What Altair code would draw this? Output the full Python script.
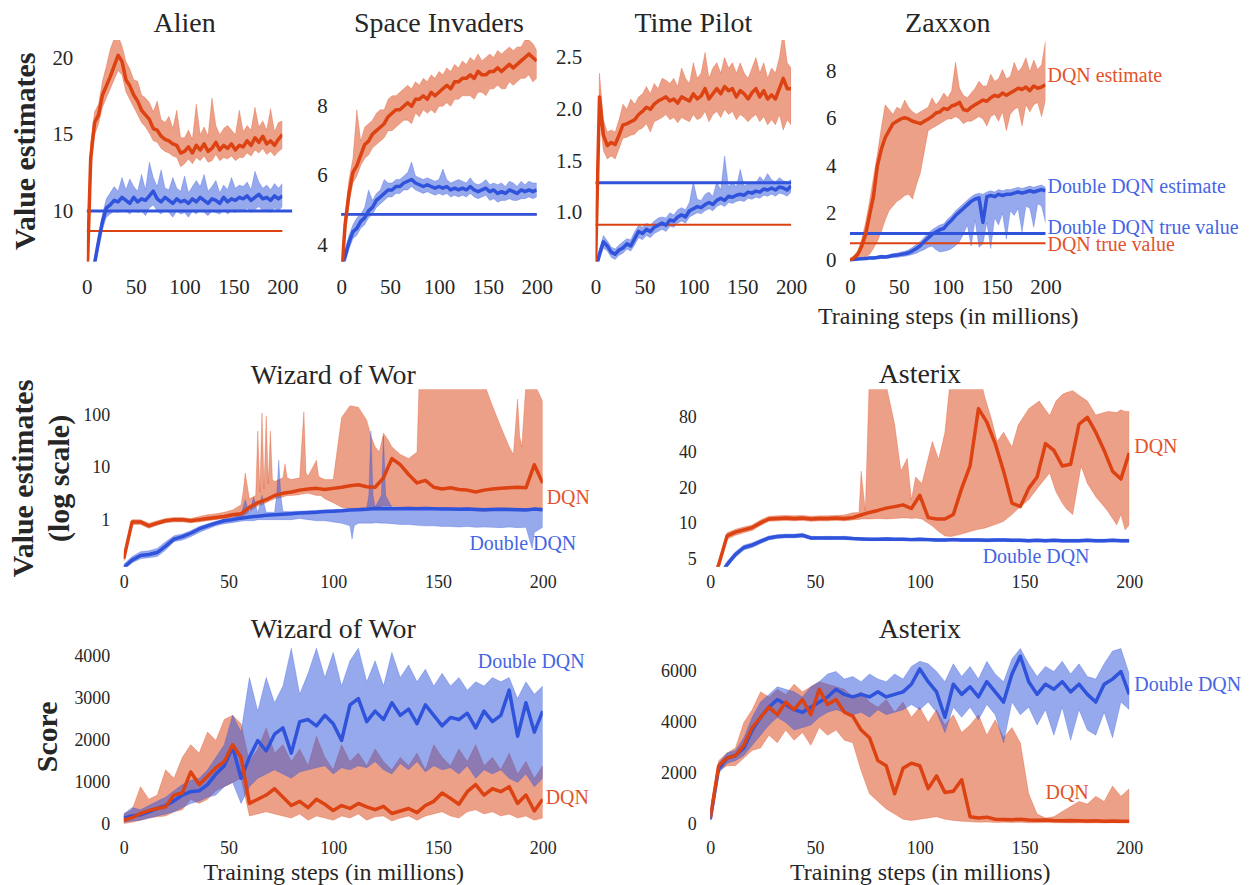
import altair as alt
import pandas as pd

FONT = "Liberation Serif"
RED = "#DC4212"
BLUE = "#3053DC"
RED_LABEL = "#E2532B"
BLUE_LABEL = "#4565E3"
TXT = "#262626"

STEPS = list(range(0, 201, 4))
X_TICKS = [0, 50, 100, 150, 200]

# ---------------- Alien ----------------
ALIEN_DQN = [5.0, 13.5, 15.8, 16.3, 17.6, 18.2, 18.8, 19.5, 20.2, 19.8,
             18.6, 18.2, 17.6, 17.2, 16.6, 16.3, 16.0, 15.4, 15.3, 14.9,
             14.7, 14.6, 14.4, 14.3, 13.8, 13.9, 14.2, 13.8, 14.3, 14.0,
             14.4, 13.9, 14.1, 14.5, 14.0, 14.3, 14.1, 14.4, 14.0, 14.3,
             14.2, 14.6, 14.3, 14.8, 14.5, 14.9, 14.4, 14.6, 14.3, 14.7,
             15.0]
ALIEN_DQN_HI = [5.5, 14.5, 16.5, 17.0, 18.5, 19.5, 20.6, 21.3, 21.5, 20.8,
                19.8, 19.3, 18.6, 18.5, 17.6, 17.4, 17.1, 16.5, 17.2, 16.0,
                15.8, 16.2, 15.4, 16.6, 14.8, 14.8, 15.3, 14.7, 17.0, 15.0,
                15.5, 14.9, 17.4, 15.6, 15.0, 15.4, 15.6, 15.3, 15.0, 16.6,
                15.2, 15.6, 15.3, 16.8, 15.5, 15.9, 15.3, 16.7, 15.2, 15.8,
                15.9]
ALIEN_DQN_LO = [4.5, 12.5, 15.0, 15.7, 16.8, 17.4, 18.0, 18.6, 19.2, 18.9,
                17.8, 17.3, 16.8, 16.3, 15.8, 15.5, 15.1, 14.6, 14.5, 14.1,
                13.9, 13.8, 13.6, 13.5, 12.9, 13.1, 13.4, 13.1, 13.5, 13.3,
                13.6, 13.2, 13.3, 13.7, 13.3, 13.5, 13.4, 13.6, 13.3, 13.5,
                13.5, 13.8, 13.6, 14.0, 13.8, 14.1, 13.7, 13.9, 13.6, 13.9,
                14.1]
ALIEN_DDQN = [4.5, 5.5, 6.6, 8.0, 9.3, 10.2, 10.4, 10.7, 10.6, 10.9,
              10.7, 10.5, 10.9, 10.6, 10.8, 10.7, 11.0, 11.3, 10.8, 10.6,
              10.9, 10.7, 10.5, 10.8, 10.6, 10.7, 10.5, 10.8, 10.6, 10.9,
              10.7, 10.5, 10.8, 10.7, 10.5, 10.9, 10.6, 10.8, 10.7, 10.9,
              10.8, 11.0, 10.7, 10.9, 11.1, 10.8, 10.9, 10.7, 11.0, 10.8,
              11.0]
ALIEN_DDQN_HI = [4.8, 5.9, 7.0, 8.5, 9.8, 10.8, 11.2, 11.6, 11.3, 12.2,
                 11.4, 12.1, 11.6, 11.3, 12.4, 11.4, 13.2, 12.2, 11.6, 12.7,
                 11.5, 11.4, 12.2, 11.5, 11.3, 12.3, 11.2, 11.6, 12.0, 11.6,
                 12.4, 11.3, 11.6, 12.0, 11.2, 11.7, 11.4, 12.2, 11.5, 11.7,
                 11.6, 11.9, 11.4, 12.6, 11.9, 11.5, 11.7, 11.4, 11.8, 11.5,
                 11.8]
ALIEN_DDQN_LO = [4.2, 5.1, 6.2, 7.5, 8.8, 9.6, 9.8, 10.0, 9.9, 10.1,
                 10.0, 9.8, 10.1, 9.9, 10.0, 9.7, 10.2, 10.4, 10.0, 9.8,
                 10.1, 9.9, 9.6, 10.0, 9.8, 9.9, 9.6, 10.0, 9.8, 10.1,
                 9.9, 9.7, 10.0, 9.9, 9.8, 10.1, 9.8, 10.0, 9.9, 10.1,
                 10.0, 10.2, 9.9, 10.1, 10.3, 10.0, 10.1, 9.9, 10.2, 10.0,
                 10.3]
ALIEN_TRUE = {"DQN": 8.7, "Double DQN": 10.0}

# ---------------- Space Invaders ----------------
SI_DQN = [3.0, 4.6, 5.5, 6.1, 6.3, 6.6, 6.9, 7.0, 7.2, 7.3,
          7.4, 7.5, 7.7, 7.8, 7.9, 7.9, 8.0, 8.1, 8.0, 8.2,
          8.2, 8.3, 8.2, 8.4, 8.3, 8.4, 8.5, 8.6, 8.5, 8.7,
          8.7, 8.8, 8.8, 8.9, 8.8, 9.0, 8.9, 8.9, 9.0, 9.0,
          9.1, 9.0, 9.1, 9.2, 9.1, 9.2, 9.3, 9.4, 9.5, 9.4,
          9.3]
SI_DQN_HI = [3.2, 4.9, 5.9, 6.5, 7.9, 7.0, 7.4, 7.5, 7.6, 7.8,
             7.9, 7.9, 8.2, 8.3, 8.3, 8.4, 8.5, 8.6, 8.5, 8.7,
             8.6, 8.8, 8.7, 8.9, 8.8, 9.0, 8.9, 9.1, 9.0, 9.2,
             9.1, 9.3, 9.2, 9.4, 9.3, 9.5, 9.3, 9.4, 9.5, 9.4,
             9.6, 9.5, 9.6, 9.7, 9.6, 9.7, 9.7, 9.9, 9.9, 9.8,
             9.6]
SI_DQN_LO = [2.8, 4.3, 5.2, 5.8, 6.0, 6.3, 6.5, 6.6, 6.8, 6.9,
             7.0, 7.1, 7.3, 7.3, 7.4, 7.5, 7.6, 7.6, 7.5, 7.8,
             7.7, 7.9, 7.8, 7.9, 7.8, 8.0, 8.0, 8.1, 8.0, 8.2,
             8.2, 8.3, 8.3, 8.3, 8.2, 8.4, 8.4, 8.3, 8.5, 8.5,
             8.6, 8.5, 8.5, 8.7, 8.6, 8.7, 8.8, 8.8, 8.9, 8.7,
             8.8]
SI_DDQN = [3.4, 3.7, 4.1, 4.4, 4.5, 4.7, 4.8, 5.0, 5.1, 5.3,
           5.4, 5.5, 5.6, 5.6, 5.7, 5.7, 5.8, 5.85, 5.9, 5.8,
           5.75, 5.7, 5.75, 5.7, 5.65, 5.7, 5.65, 5.7, 5.6, 5.65,
           5.6, 5.65, 5.6, 5.7, 5.6, 5.55, 5.6, 5.65, 5.55, 5.6,
           5.5, 5.55, 5.5, 5.6, 5.55, 5.5, 5.6, 5.55, 5.6, 5.55,
           5.6]
SI_DDQN_HI = [3.5, 3.9, 4.3, 4.6, 4.8, 4.9, 5.1, 5.6, 5.3, 5.5,
              5.6, 5.9, 5.8, 5.8, 5.9, 5.9, 6.0, 6.1, 6.4, 6.0,
              5.95, 5.9, 5.95, 5.9, 5.85, 5.9, 6.2, 5.9, 5.8, 5.85,
              5.9, 5.85, 5.8, 5.95, 5.8, 5.75, 5.8, 5.9, 5.75, 5.8,
              5.75, 5.8, 5.7, 5.85, 5.8, 5.7, 5.85, 5.75, 5.85, 5.8,
              5.8]
SI_DDQN_LO = [3.3, 3.5, 3.9, 4.2, 4.3, 4.5, 4.6, 4.8, 4.9, 5.1,
              5.2, 5.3, 5.4, 5.4, 5.5, 5.5, 5.6, 5.6, 5.7, 5.6,
              5.55, 5.5, 5.55, 5.5, 5.45, 5.5, 5.45, 5.5, 5.4, 5.45,
              5.4, 5.45, 5.4, 5.5, 5.4, 5.35, 5.4, 5.45, 5.3, 5.35,
              5.25, 5.3, 5.3, 5.35, 5.3, 5.3, 5.35, 5.35, 5.4, 5.35,
              5.4]
SI_TRUE = {"DQN": 4.9, "Double DQN": 4.9}

# ---------------- Time Pilot ----------------
TP_DQN = [0.5, 2.12, 1.75, 1.65, 1.68, 1.66, 1.75, 1.85, 1.86, 1.88,
          1.9, 1.95, 1.98, 2.02, 2.0, 2.05, 2.08, 2.1, 2.12, 2.08,
          2.1, 2.06, 2.12, 2.1, 2.08, 2.15, 2.1, 2.13, 2.2, 2.1,
          2.15, 2.2, 2.15, 2.22, 2.18, 2.2, 2.12, 2.18, 2.15, 2.1,
          2.16, 2.2, 2.12, 2.18, 2.1, 2.14, 2.1, 2.2, 2.3, 2.2,
          2.2]
TP_DQN_HI = [0.55, 2.35, 1.9, 1.78, 1.8, 1.78, 1.9, 2.05, 2.0, 2.1,
             2.05, 2.12, 2.15, 2.22, 2.15, 2.25, 2.2, 2.3, 2.28, 2.25,
             2.3, 2.22, 2.4, 2.3, 2.25, 2.45, 2.3, 2.35, 2.55, 2.3,
             2.4, 2.45, 2.35, 2.5, 2.4, 2.45, 2.35, 2.45, 2.35, 2.3,
             2.4, 2.5, 2.35, 2.45, 2.3, 2.4, 2.35, 2.5, 2.75, 2.45,
             2.4]
TP_DQN_LO = [0.45, 1.95, 1.6, 1.52, 1.55, 1.52, 1.62, 1.72, 1.73, 1.75,
             1.76, 1.8, 1.82, 1.86, 1.78, 1.88, 1.9, 1.92, 1.95, 1.9,
             1.92, 1.87, 1.92, 1.9, 1.88, 1.95, 1.9, 1.92, 1.98, 1.88,
             1.95, 1.98, 1.92, 2.0, 1.95, 1.98, 1.9, 1.95, 1.92, 1.88,
             1.92, 1.95, 1.88, 1.93, 1.85, 1.9, 1.85, 1.95, 1.8, 1.9,
             1.85]
TP_DDQN = [0.45, 0.6, 0.72, 0.68, 0.62, 0.6, 0.64, 0.66, 0.7, 0.68,
           0.75, 0.82, 0.8, 0.84, 0.82, 0.86, 0.88, 0.9, 0.88, 0.93,
           0.92, 0.96, 0.98, 0.96, 1.02, 1.04, 1.06, 1.05, 1.08, 1.1,
           1.08, 1.12, 1.14, 1.12, 1.16, 1.15, 1.17, 1.18, 1.17, 1.2,
           1.19, 1.21, 1.2, 1.23, 1.22, 1.24, 1.22, 1.25, 1.24, 1.22,
           1.26]
TP_DDQN_HI = [0.48, 0.65, 0.78, 0.73, 0.67, 0.65, 0.69, 0.72, 0.75, 0.74,
              0.82, 0.88, 0.86, 0.9, 0.88, 0.92, 0.95, 0.96, 0.95, 1.0,
              0.98, 1.03, 1.05, 1.03, 1.1, 1.3, 1.13, 1.12, 1.18, 1.2,
              1.16, 1.3, 1.22, 1.55, 1.25, 1.3, 1.25, 1.42, 1.26, 1.28,
              1.3, 1.29, 1.35, 1.31, 1.38, 1.32, 1.3, 1.34, 1.31, 1.3,
              1.32]
TP_DDQN_LO = [0.42, 0.55, 0.66, 0.63, 0.57, 0.55, 0.59, 0.61, 0.65, 0.63,
              0.69, 0.76, 0.74, 0.78, 0.76, 0.8, 0.82, 0.84, 0.82, 0.87,
              0.86, 0.9, 0.92, 0.9, 0.96, 0.98, 1.0, 0.99, 1.02, 1.04,
              1.02, 1.06, 1.08, 1.06, 1.1, 1.09, 1.11, 1.12, 1.11, 1.14,
              1.13, 1.15, 1.14, 1.17, 1.16, 1.18, 1.16, 1.19, 1.18, 1.16,
              1.2]
TP_TRUE = {"DQN": 0.885, "Double DQN": 1.29}

# ---------------- Zaxxon ----------------
ZAX_DQN = [0.0, 0.1, 0.25, 0.6, 1.1, 1.9, 2.7, 4.0, 4.7, 5.2,
           5.5, 5.8, 5.9, 6.0, 6.05, 6.0, 5.9, 5.85, 5.8, 5.9,
           6.0, 6.1, 6.25, 6.3, 6.45, 6.4, 6.55, 6.6, 6.7, 6.4,
           6.35, 6.5, 6.6, 6.7, 6.8, 6.75, 6.9, 7.0, 6.95, 7.1,
           7.0, 7.1, 7.2, 7.3, 7.25, 7.35, 7.2, 7.4, 7.3, 7.35,
           7.45]
ZAX_DQN_HI = [0.05, 0.2, 0.4, 0.9, 1.6, 2.5, 3.5, 4.5, 5.6, 6.6,
              6.4, 6.2, 6.5, 6.4, 6.8, 6.5, 6.3, 6.2, 6.3, 6.4,
              6.5, 6.9, 6.6, 6.8, 7.1, 6.9, 7.2, 8.4, 7.3, 7.0,
              6.9, 7.1, 7.3, 7.6, 7.4, 7.4, 7.9, 7.6, 7.7, 8.1,
              7.7, 7.8, 8.4, 8.0, 8.2, 8.6, 8.0, 8.5, 8.1, 8.3,
              9.3]
ZAX_DQN_LO = [0.0, 0.02, 0.05, 0.1, 0.15, 0.25, 0.5, 0.8, 1.2, 1.7,
              2.1, 2.3, 2.5, 2.6, 2.75, 2.8, 2.6, 3.2, 3.7, 4.6,
              5.5, 5.6, 5.7, 5.8, 5.9, 6.0, 6.0, 6.1, 6.0, 5.8,
              5.9, 5.9, 6.0, 6.1, 6.0, 5.7, 6.1, 6.2, 5.9, 6.3,
              5.5, 6.2, 6.4, 6.5, 5.7, 6.6, 6.3, 6.6, 6.7, 6.1,
              6.8]
ZAX_DDQN = [0.0, 0.03, 0.05, 0.06, 0.08, 0.1, 0.1, 0.12, 0.15, 0.14,
            0.16, 0.2, 0.22, 0.25, 0.28, 0.32, 0.4, 0.5, 0.62, 0.8,
            0.95, 1.1, 1.2, 1.3, 1.35, 1.55, 1.7, 1.9, 2.05, 2.2,
            2.35, 2.5, 2.6, 2.65, 1.6, 2.7, 2.75, 2.7, 2.8, 2.75,
            2.8, 2.8, 2.85, 2.9, 2.85, 2.9, 2.95, 2.9, 2.95, 3.0,
            2.95]
ZAX_DDQN_HI = [0.02, 0.06, 0.08, 0.1, 0.12, 0.15, 0.16, 0.18, 0.22, 0.2,
               0.24, 0.28, 0.3, 0.35, 0.38, 0.45, 0.55, 0.68, 0.8, 0.98,
               1.15, 1.3, 1.4, 1.5, 1.55, 1.75, 1.9, 2.1, 2.25, 2.4,
               2.55, 2.7, 2.8, 2.85, 2.8, 2.9, 2.95, 2.9, 3.0, 2.95,
               3.0, 3.0, 3.05, 3.1, 3.05, 3.1, 3.15, 3.1, 3.15, 3.2,
               3.1]
ZAX_DDQN_LO = [0.0, 0.0, 0.02, 0.03, 0.04, 0.05, 0.05, 0.06, 0.08, 0.08,
               0.1, 0.12, 0.12, 0.15, 0.17, 0.2, 0.25, 0.3, 0.38, 0.45,
               0.55, 0.6, 0.45, 0.35, 0.38, 0.42, 0.5, 0.62, 0.8, 1.1,
               1.5, 0.6, 1.7, 0.55, 0.7, 1.6, 0.5, 1.8, 1.5, 2.0,
               0.9, 2.1, 1.9, 2.2, 1.2, 2.3, 2.2, 1.4, 2.4, 2.3,
               1.6]
ZAX_TRUE = {"DQN": 0.72, "Double DQN": 1.14}

# ---------------- Wizard of Wor: value estimates (log) ----------------
WWV_DQN = [0.19, 0.95, 0.95, 0.8, 0.9, 1.0, 1.05, 1.05, 1.0, 1.05,
           1.1, 1.15, 1.2, 1.3, 1.35, 1.8, 2.2, 2.5, 3.0, 3.3,
           3.5, 3.8, 4.0, 4.1, 3.9, 4.1, 4.3, 4.6, 4.8, 4.4,
           4.3, 6.5, 15.0, 11.5, 7.5, 5.2, 5.8, 4.3, 4.0, 4.2,
           3.9, 3.8, 3.5, 3.8, 4.0, 4.1, 4.2, 4.3, 4.2, 11.5,
           5.2]
WWV_DQN_BX = [0, 4, 8, 12, 16, 20, 24, 28, 32, 36,
              40, 44, 48, 52, 56, 57, 58, 60, 63, 64,
              65, 66, 67, 68, 69, 70, 71, 72, 76, 77,
              78, 80, 84, 85, 86, 87, 88, 92, 93, 94,
              96, 100, 104, 108, 112, 116, 118, 120, 122, 124,
              126, 128, 132, 136, 140, 141, 144, 148, 152, 156,
              160, 164, 168, 172, 176, 180, 184, 186, 188, 189,
              190, 192, 196, 200]
WWV_DQN_HI = [0.21, 1.05, 1.05, 0.9, 1.0, 1.1, 1.15, 1.15, 1.1, 1.2,
              1.3, 1.35, 1.45, 1.6, 2.0, 3.5, 8.0, 2.6, 3.0, 50,
              3.5, 110, 4.0, 95, 5.0, 50, 6.0, 5.5, 6.5, 12,
              6.5, 6.0, 6.5, 30, 115, 8.0, 7.0, 14, 7.0, 6.5,
              6.0, 6.0, 90, 150, 140, 80, 40, 25, 20, 45,
              35, 25, 18, 15, 20, 400, 400, 400, 400, 400,
              400, 400, 400, 400, 150, 60, 25, 18, 200, 40,
              25, 400, 400, 180]
WWV_DQN_LO = [0.17, 0.85, 0.85, 0.72, 0.82, 0.92, 0.95, 0.95, 0.92, 0.95,
              1.0, 1.05, 1.1, 1.15, 1.2, 1.25, 1.3, 1.5, 1.8, 1.9,
              2.0, 2.0, 2.1, 2.2, 2.3, 2.4, 2.5, 2.6, 2.8, 2.9,
              3.0, 3.0, 3.1, 3.2, 3.2, 3.3, 3.3, 3.0, 3.0, 3.0,
              2.6, 2.2, 1.8, 1.7, 1.7, 1.75, 1.8, 1.8, 1.8, 1.9,
              1.9, 1.9, 1.85, 1.8, 1.8, 1.8, 1.75, 1.7, 1.7, 1.7,
              1.7, 1.65, 1.55, 1.5, 1.55, 1.6, 1.6, 1.6, 1.6, 1.6,
              1.6, 1.65, 1.7, 1.7]
WWV_DDQN = [0.13, 0.18, 0.22, 0.23, 0.25, 0.33, 0.45, 0.5, 0.58, 0.7,
            0.8, 0.9, 1.0, 1.05, 1.12, 1.18, 1.22, 1.27, 1.3, 1.33,
            1.36, 1.4, 1.42, 1.45, 1.5, 1.52, 1.55, 1.6, 1.62, 1.65,
            1.7, 1.68, 1.7, 1.68, 1.7, 1.68, 1.7, 1.68, 1.67, 1.66,
            1.65, 1.66, 1.64, 1.62, 1.63, 1.65, 1.64, 1.62, 1.6, 1.66,
            1.62]
WWV_DDQN_BX = [0, 4, 8, 12, 16, 20, 24, 28, 32, 36,
               40, 44, 48, 52, 56, 58, 60, 62, 64, 66,
               68, 72, 73, 74, 75, 76, 80, 84, 88, 92,
               96, 100, 104, 108, 109, 110, 111, 112, 116, 117,
               118, 119, 120, 123, 124, 125, 128, 132, 136, 140,
               144, 148, 152, 156, 160, 164, 168, 172, 176, 180,
               184, 188, 192, 194, 195, 196, 200]
WWV_DDQN_HI = [0.15, 0.21, 0.26, 0.27, 0.3, 0.4, 0.52, 0.56, 0.65, 0.78,
               0.88, 0.98, 1.08, 1.15, 1.3, 2.5, 1.35, 2.8, 1.4, 3.0,
               1.45, 1.45, 3.0, 14, 3.0, 1.5, 1.5, 1.52, 1.55, 1.58,
               1.6, 1.62, 1.65, 1.7, 1.7, 1.72, 1.72, 1.74, 1.76, 3.0,
               50, 3.0, 1.8, 3.0, 40, 3.0, 1.8, 1.78, 1.8, 1.78,
               1.8, 1.78, 1.77, 1.76, 1.75, 1.76, 1.74, 1.72, 1.73, 1.75,
               1.74, 1.72, 1.7, 1.72, 1.75, 1.76, 1.72]
WWV_DDQN_LO = [0.12, 0.16, 0.19, 0.2, 0.21, 0.28, 0.4, 0.43, 0.5, 0.6,
               0.7, 0.8, 0.88, 0.92, 0.98, 1.0, 1.0, 1.0, 1.05, 1.05,
               1.05, 1.05, 1.05, 1.05, 1.05, 1.05, 1.05, 1.1, 1.05, 1.0,
               1.0, 0.95, 0.9, 0.8, 0.45, 0.8, 0.85, 0.9, 0.9, 0.9,
               0.9, 0.9, 0.92, 0.9, 0.9, 0.9, 0.88, 0.85, 0.85, 0.82,
               0.8, 0.8, 0.78, 0.78, 0.76, 0.78, 0.75, 0.76, 0.75, 0.74,
               0.76, 0.74, 0.75, 0.4, 0.3, 0.6, 0.75]

# ---------------- Asterix: value estimates (log) ----------------
ASV_DQN = [3.0, 4.5, 7.9, 8.5, 8.9, 9.3, 10.2, 11.0, 11.1, 11.2,
           11.1, 11.2, 11.0, 11.1, 11.1, 11.2, 11.1, 11.3, 11.9, 12.5,
           13.0, 13.6, 14.0, 14.5, 13.5, 17.5, 11.3, 11.0, 11.0, 12.0,
           20.0, 31.0, 95.0, 73.0, 48.0, 28.0, 15.0, 14.0, 20.0, 25.0,
           48.0, 42.0, 31.0, 32.0, 70.0, 80.0, 60.0, 42.0, 28.0, 24.0,
           40.0]
ASV_DQN_BX = [0, 4, 8, 12, 16, 20, 24, 28, 32, 36,
              40, 44, 48, 52, 56, 60, 64, 68, 71, 72,
              74, 76, 80, 84, 88, 91, 94, 96, 98, 101,
              106, 109, 112, 115, 120, 124, 128, 131, 134, 137,
              140, 144, 147, 152, 157, 162, 165, 168, 170, 173,
              177, 180, 184, 188, 190, 194, 196, 198, 200]
ASV_DQN_HI = [3.2, 4.8, 8.4, 9.0, 9.4, 9.8, 10.8, 11.6, 11.7, 11.8,
              11.7, 11.8, 11.6, 11.7, 11.7, 11.8, 11.9, 12.4, 12.5, 28,
              13, 200, 200, 150, 70, 28, 36, 16, 25, 22,
              50, 35, 60, 200, 200, 200, 200, 120, 80, 50,
              60, 45, 69, 95, 110, 83, 110, 125, 130, 135,
              120, 110, 84, 88, 90, 88, 93, 90, 90]
ASV_DQN_LO = [2.8, 4.2, 7.4, 8.0, 8.4, 8.8, 9.7, 10.5, 10.6, 10.7,
              10.6, 10.7, 10.5, 10.6, 10.6, 10.7, 10.6, 10.8, 10.9, 11.0,
              11.0, 11.0, 11.1, 11.0, 11.1, 11.2, 11.2, 11.1, 11.2, 11.0,
              9.6, 8.6, 7.9, 7.8, 8.2, 8.6, 9.0, 9.2, 9.6, 10.0,
              10.5, 12.0, 13.5, 16.0, 21.0, 27.0, 18.7, 15.0, 13.4, 12.0,
              31.0, 22.0, 17.0, 14.0, 12.6, 9.8, 12.0, 8.9, 9.8]
ASV_DDQN = [3.0, 3.5, 4.5, 5.5, 6.3, 6.6, 7.1, 7.6, 7.8, 7.9,
            7.9, 8.0, 7.6, 7.6, 7.6, 7.6, 7.6, 7.5, 7.45, 7.4,
            7.4, 7.45, 7.4, 7.4, 7.35, 7.4, 7.35, 7.3, 7.3, 7.35,
            7.3, 7.3, 7.3, 7.25, 7.3, 7.3, 7.25, 7.25, 7.2, 7.25,
            7.2, 7.25, 7.2, 7.2, 7.2, 7.25, 7.2, 7.2, 7.25, 7.2,
            7.2]
ASV_DDQN_HI = [3.1, 3.7, 4.8, 5.8, 6.6, 6.9, 7.4, 7.9, 8.1, 8.2,
               8.2, 8.3, 7.85, 7.8, 7.85, 7.8, 7.85, 7.7, 7.65, 7.6,
               7.6, 7.65, 7.6, 7.6, 7.55, 7.6, 7.55, 7.5, 7.5, 7.55,
               7.5, 7.5, 7.5, 7.45, 7.5, 7.5, 7.45, 7.45, 7.4, 7.45,
               7.4, 7.45, 7.4, 7.4, 7.4, 7.45, 7.4, 7.4, 7.45, 7.4,
               7.4]
ASV_DDQN_LO = [2.9, 3.3, 4.3, 5.2, 6.0, 6.3, 6.8, 7.3, 7.5, 7.6,
               7.6, 7.7, 7.35, 7.4, 7.35, 7.4, 7.35, 7.3, 7.25, 7.2,
               7.2, 7.25, 7.2, 7.2, 7.15, 7.2, 7.15, 7.1, 7.1, 7.15,
               7.1, 7.1, 7.1, 7.05, 7.1, 7.1, 7.05, 7.05, 7.0, 7.05,
               7.0, 7.05, 7.0, 7.0, 7.0, 7.05, 7.0, 7.0, 7.05, 7.0,
               7.0]

# ---------------- Wizard of Wor: score ----------------
WWS_DQN = [100, 160, 260, 330, 380, 420, 700, 750, 1250, 950,
           1150, 1350, 1500, 1900, 1600, 500, 600, 700, 850, 650,
           450, 550, 400, 600, 480, 330, 450, 380, 500, 420,
           350, 430, 260, 320, 380, 280, 450, 550, 750, 620,
           480, 780, 950, 700, 850, 780, 900, 500, 700, 320,
           600]
WWS_DQN_HI = [250, 350, 900, 600, 700, 1300, 1100, 1600, 1900, 1700,
              2200, 2000, 2500, 2600, 2400, 1500, 1800, 2300, 1700, 1900,
              1500, 1800, 1400, 2100, 1600, 1300, 1900, 1500, 1700, 1400,
              1800, 1500, 1300, 1600, 1400, 1700, 1300, 1900, 1600, 1400,
              1800, 1500, 1900, 1400, 1600, 1300, 1700, 1200, 1500, 1100,
              1400]
WWS_DQN_LO = [20, 50, 100, 150, 180, 200, 300, 350, 600, 500,
              600, 800, 900, 1000, 1100, 200, 250, 300, 250, 200,
              150, 250, 100, 200, 150, 100, 200, 150, 250, 100,
              180, 200, 80, 150, 200, 100, 200, 250, 300, 200,
              150, 300, 350, 250, 300, 200, 250, 150, 200, 100,
              150]
WWS_DDQN = [150, 200, 230, 300, 380, 450, 560, 700, 780, 800,
            950, 1200, 1400, 1850, 1100, 1600, 2000, 1750, 2150, 2300,
            1700, 2450, 2500, 2350, 2600, 2400, 2000, 2850, 3000, 2450,
            2700, 2500, 2900, 2600, 2750, 2400, 2850, 2600, 2350, 2550,
            2500, 2650, 2300, 2700, 2450, 2600, 3200, 2100, 2900, 2200,
            2700]
WWS_DDQN_HI = [250, 400, 350, 450, 550, 650, 800, 950, 1050, 1100,
               1300, 1600, 1900, 2600, 2200, 3500, 2700, 3500, 2900, 3300,
               4200, 3100, 3600, 4200, 3500, 4100, 3300, 3900, 4200, 3400,
               3900, 3300, 4100, 3500, 3800, 3400, 3700, 3300, 3600, 3300,
               3500, 3200, 3400, 3300, 3500, 3400, 3500, 3000, 3400, 3100,
               3300]
WWS_DDQN_LO = [50, 80, 100, 150, 200, 250, 300, 400, 500, 550,
               650, 700, 900, 1000, 500, 900, 1100, 1200, 1300, 1200,
               1100, 1250, 1300, 1350, 1400, 1200, 1350, 1300, 1400, 1350,
               1500, 1300, 1200, 1450, 1300, 1500, 1250, 1400, 1300, 1350,
               1200, 1400, 1100, 1300, 1200, 1300, 1100, 1000, 1200, 900,
               1100]

# ---------------- Asterix: score ----------------
ASS_DQN = [250, 2300, 2600, 2700, 3100, 3800, 4200, 4600, 4300, 4800,
           4500, 4900, 4300, 5300, 4700, 4900, 4400, 4250, 3700, 3400,
           2500, 2300, 1200, 2200, 2400, 2300, 1400, 1900, 1250, 1300,
           1750, 300, 250, 280, 200, 190, 180, 200, 170, 160,
           170, 150, 140, 150, 140, 130, 140, 120, 130, 120,
           120]
ASS_DQN_HI = [300, 2500, 2800, 3000, 4000, 4500, 5200, 5000, 5300, 5100,
              5500, 5200, 5400, 5600, 5500, 5400, 5300, 5000, 5200, 4800,
              4600, 4900, 4400, 4800, 4200, 4600, 4000, 4500, 3900, 4300,
              3600, 3900, 4300, 3500, 4100, 3400, 3800, 3200, 1200, 400,
              250, 300, 500, 700, 900, 800, 1100, 900, 1500, 1100,
              1400]
ASS_DQN_LO = [200, 2100, 2300, 2300, 2600, 2900, 3000, 3500, 3200, 3700,
              3300, 3600, 3100, 3800, 3500, 3700, 3300, 3200, 2100, 1200,
              900, 600, 400, 200, 150, 200, 250, 300, 200, 150,
              120, 100, 80, 90, 70, 80, 70, 80, 60, 60,
              70, 60, 60, 50, 60, 50, 60, 50, 60, 50,
              50]
ASS_DDQN = [200, 2200, 2600, 2700, 3000, 3700, 4200, 4600, 4900, 4700,
            4500, 4400, 4600, 4800, 5000, 5300, 5100, 5000, 5100, 5000,
            5200, 5000, 5100, 5200, 5500, 6100, 5600, 5200, 4200, 5500,
            5100, 5400, 5000, 5600, 5200, 4800, 5900, 6600, 5600, 5100,
            5500, 5300, 5600, 5200, 5500, 5100, 4800, 5500, 5700, 6000,
            5100]
ASS_DDQN_HI = [250, 2400, 2800, 2900, 3400, 4200, 4800, 5100, 5400, 5300,
               5200, 5000, 5400, 5600, 5900, 6000, 5700, 5800, 5600, 5900,
               5700, 5600, 5900, 5700, 6200, 6400, 6300, 6000, 5600, 6300,
               5800, 6200, 5700, 6400, 5900, 5600, 6500, 6900, 6300, 5800,
               6200, 6000, 6400, 5900, 6300, 5800, 5700, 6300, 6800, 6900,
               5900]
ASS_DDQN_LO = [150, 2000, 2400, 2500, 2700, 3100, 3500, 3900, 4200, 4000,
               3700, 3800, 3900, 4200, 4400, 4500, 4400, 4300, 4400, 4200,
               4500, 4300, 4400, 4500, 4700, 4500, 4800, 4400, 3600, 4600,
               4200, 4600, 4100, 4700, 4300, 3200, 4800, 4300, 4600, 3900,
               4500, 3500, 4600, 3300, 4500, 3700, 3500, 4400, 3400, 4800,
               4500]

SPACER_DF = pd.DataFrame({"v": [0]})


def check(*arrs):
    n = len(arrs[0])
    for a in arrs:
        if len(a) != n:
            raise ValueError(f"length mismatch {len(a)} vs {n}")


def series(x, mean, bx, lo, hi):
    check(x, mean)
    check(bx, lo, hi)
    return (pd.DataFrame({"x": bx, "lo": lo, "hi": hi}),
            pd.DataFrame({"x": x, "y": mean}))


def extent_rule(height, ext):
    # invisible vertical rule that fixes a row's layout bounds
    return (alt.Chart(SPACER_DF).mark_rule(opacity=0, strokeWidth=1)
            .encode(x=alt.value(0), y=alt.value(-ext[0]),
                    y2=alt.value(height + ext[1])))


def panel(title, dqn, ddqn, y_domain, y_values, y_format, *, width, height,
          y_type="linear", x_font=18, y_font=18, x_pad=13, title_offset=2,
          y_title=None, y_title_x=-60, x_title=None, x_title_y=56,
          rules=(), labels=(), lw=3.5, ext=None):
    sx = alt.Scale(domain=[0, 200], nice=False, zero=False)
    sy = alt.Scale(type=y_type, domain=y_domain, nice=False, zero=False)
    xa_kw = dict(values=X_TICKS, domain=False, ticks=False, tickSize=0, grid=False,
                 labelFont=FONT, labelFontSize=x_font, labelColor=TXT,
                 labelPadding=x_pad, labelFlush=False, labelOverlap=False)
    if x_title:
        xa_kw.update(title=x_title, titleFont=FONT, titleFontSize=24,
                     titleFontWeight="normal", titleColor=TXT,
                     titleY=x_title_y, titleBaseline="alphabetic")
    else:
        xa_kw["title"] = None
    xa = alt.Axis(**xa_kw)
    ya_kw = dict(values=y_values, format=y_format, domain=False, ticks=False,
                 tickSize=0, grid=False, labelFont=FONT, labelFontSize=y_font,
                 labelColor=TXT, labelPadding=14, labelFlush=False,
                 labelOverlap=False)
    if y_title:
        ya_kw.update(title=y_title, titleFont=FONT, titleFontSize=30,
                     titleFontWeight="bold", titleColor=TXT, titleX=y_title_x,
                     titleY=height / 2, titleAngle=270, titleAlign="center",
                     titleBaseline="middle", titleLineHeight=36)
    else:
        ya_kw["title"] = None
    ya = alt.Axis(**ya_kw)

    X = alt.X("x:Q", scale=sx, axis=xa)
    layers = []
    for (band, _), color in ((dqn, RED), (ddqn, BLUE)):
        layers.append(
            alt.Chart(band).mark_area(clip=True, fill=color, fillOpacity=0.5,
                                      stroke=color, strokeOpacity=0.35,
                                      strokeWidth=0.8)
            .encode(x=X, y=alt.Y("lo:Q", scale=sy, axis=ya), y2="hi:Q"))
    for r in rules:
        rdf = pd.DataFrame({"x": [0], "x2": [r["x2"]], "y": [r["y"]]})
        layers.append(
            alt.Chart(rdf).mark_rule(color=r["color"], strokeWidth=r["w"])
            .encode(x=X, x2="x2:Q", y=alt.Y("y:Q", scale=sy, axis=ya)))
    for (_, line), color in ((ddqn, BLUE), (dqn, RED)):
        layers.append(
            alt.Chart(line).mark_line(clip=True, color=color, strokeWidth=lw,
                                      strokeJoin="round")
            .encode(x=X, y=alt.Y("y:Q", scale=sy, axis=ya)))
    for lab in labels:
        ldf = pd.DataFrame({"x": [lab["x"]], "y": [lab["y"]], "t": [lab["t"]]})
        layers.append(
            alt.Chart(ldf).mark_text(align="left", baseline="middle", font=FONT,
                                     fontSize=lab.get("size", 20),
                                     color=lab["color"], dx=lab.get("dx", 0))
            .encode(x=X, y=alt.Y("y:Q", scale=sy, axis=ya), text="t:N"))
    if ext is not None:
        layers.append(extent_rule(height, ext))
    tp = alt.TitleParams(text=title, font=FONT, fontSize=28, fontWeight="normal",
                         color=TXT, offset=title_offset, baseline="top",
                         anchor="middle")
    return alt.layer(*layers).properties(width=width, height=height, title=tp)


def std(mean_d, lo_d, hi_d, mean_b, lo_b, hi_b):
    return (series(STEPS, mean_d, STEPS, lo_d, hi_d),
            series(STEPS, mean_b, STEPS, lo_b, hi_b))


def true_rules(tv, x2_blue=200):
    return [dict(y=tv["DQN"], color=RED, w=2, x2=200),
            dict(y=tv["Double DQN"], color=BLUE, w=3, x2=x2_blue)]


W1, H1 = 196, 222
top_kw = dict(width=W1, height=H1, x_font=21, y_font=21, x_pad=15, title_offset=2)

d, b = std(ALIEN_DQN, ALIEN_DQN_LO, ALIEN_DQN_HI, ALIEN_DDQN, ALIEN_DDQN_LO, ALIEN_DDQN_HI)
alien = panel("Alien", d, b, [6.7, 21.2], [10, 15, 20], "d",
              y_title="Value estimates", y_title_x=-61,
              rules=true_rules(ALIEN_TRUE, 210), ext=(0, 71), **top_kw)

d, b = std(SI_DQN, SI_DQN_LO, SI_DQN_HI, SI_DDQN, SI_DDQN_LO, SI_DDQN_HI)
si = panel("Space Invaders", d, b, [3.55, 9.9], [4, 6, 8], "d",
           rules=true_rules(SI_TRUE), **top_kw)

d, b = std(TP_DQN, TP_DQN_LO, TP_DQN_HI, TP_DDQN, TP_DDQN_LO, TP_DDQN_HI)
tp = panel("Time Pilot", d, b, [0.53, 2.67], [1.0, 1.5, 2.0, 2.5], ".1f",
           rules=true_rules(TP_TRUE), **top_kw)

d, b = std(ZAX_DQN, ZAX_DQN_LO, ZAX_DQN_HI, ZAX_DDQN, ZAX_DDQN_LO, ZAX_DDQN_HI)
zax = panel("Zaxxon", d, b, [-0.05, 9.35], [0, 2, 4, 6, 8], "d",
            x_title="Training steps (in millions)", x_title_y=62,
            rules=true_rules(ZAX_TRUE),
            labels=[dict(t="DQN estimate", x=200, y=7.8, color=RED_LABEL, dx=2),
                    dict(t="Double DQN estimate", x=200, y=3.1, color=BLUE_LABEL, dx=2),
                    dict(t="Double DQN true value", x=200, y=1.38, color=BLUE_LABEL, dx=2),
                    dict(t="DQN true value", x=200, y=0.63, color=RED_LABEL, dx=2)],
            **top_kw)

W2, H2, H3 = 420, 178, 180

wwv = panel("Wizard of Wor",
            series(STEPS, WWV_DQN, WWV_DQN_BX, WWV_DQN_LO, WWV_DQN_HI),
            series(STEPS, WWV_DDQN, WWV_DDQN_BX, WWV_DDQN_LO, WWV_DDQN_HI),
            [0.135, 309], [1, 10, 100], "d", y_type="log",
            width=W2, height=H2, x_pad=7, title_offset=-11,
            y_title=["Value estimates", "(log scale)"], y_title_x=-100,
            labels=[dict(t="DQN", x=200, y=2.7, color=RED_LABEL, dx=4),
                    dict(t="Double DQN", x=165, y=0.37, color=BLUE_LABEL)])

asv = panel("Asterix",
            series(STEPS, ASV_DQN, ASV_DQN_BX, ASV_DQN_LO, ASV_DQN_HI),
            series(STEPS, ASV_DDQN, STEPS, ASV_DDQN_LO, ASV_DDQN_HI),
            [4.33, 139], [5, 10, 20, 40, 80], "d", y_type="log",
            width=W2, height=H2, x_pad=7, title_offset=0,
            labels=[dict(t="DQN", x=200, y=45, color=RED_LABEL, dx=5),
                    dict(t="Double DQN", x=130, y=5.25, color=BLUE_LABEL)])

d, b = std(WWS_DQN, WWS_DQN_LO, WWS_DQN_HI, WWS_DDQN, WWS_DDQN_LO, WWS_DDQN_HI)
wws = panel("Wizard of Wor", d, b, [-40, 4240], [0, 1000, 2000, 3000, 4000], "d",
            width=W2, height=H3, x_pad=13, title_offset=3,
            y_title="Score", y_title_x=-76,
            x_title="Training steps (in millions)", x_title_y=54,
            labels=[dict(t="Double DQN", x=169, y=3880, color=BLUE_LABEL),
                    dict(t="DQN", x=200, y=620, color=RED_LABEL, dx=3)])

d, b = std(ASS_DQN, ASS_DQN_LO, ASS_DQN_HI, ASS_DDQN, ASS_DDQN_LO, ASS_DDQN_HI)
ass = panel("Asterix", d, b, [-70, 6980], [0, 2000, 4000, 6000], "d",
            width=W2, height=H3, x_pad=13, title_offset=3,
            x_title="Training steps (in millions)", x_title_y=54,
            labels=[dict(t="Double DQN", x=200, y=5450, color=BLUE_LABEL, dx=5),
                    dict(t="DQN", x=160, y=1215, color=RED_LABEL)])


def spacer(w, h, ext=None):
    base = alt.Chart(SPACER_DF).mark_point(opacity=0)
    if ext is None:
        return base.properties(width=w, height=h)
    return alt.layer(base, extent_rule(h, ext)).properties(width=w, height=h)


row1 = alt.hconcat(alien, si, tp, zax, spacing=59, bounds="flush")
row2 = alt.hconcat(spacer(37, H2, ext=(45, 30)), wwv, spacer(168, H2), asv,
                   spacing=0, bounds="flush")
row3 = alt.hconcat(spacer(37, H3, ext=(38, 62)), wws, spacer(168, H3), ass,
                   spacing=0, bounds="flush")

chart = (alt.vconcat(row1, row2, row3, spacing=10)
         .properties(padding={"left": 0, "top": 0, "right": 2, "bottom": 0},
                     background="white")
         .configure_view(stroke="transparent"))

chart.save("out.html", embed_options={"renderer": "svg", "actions": False})
